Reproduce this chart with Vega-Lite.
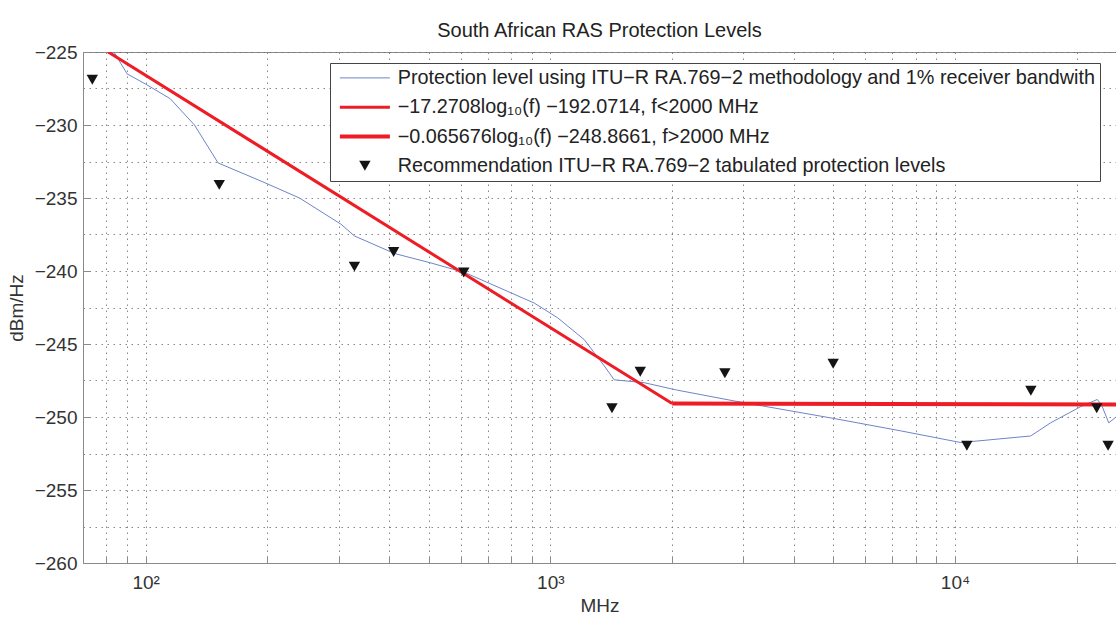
{
  "$schema": "https://vega.github.io/schema/vega-lite/v6.json",
  "width": 1033,
  "height": 511,
  "autosize": {"type": "none"},
  "padding": {"left": 83, "top": 52, "right": 0, "bottom": 65},
  "background": "white",
  "config": {
    "font": "Liberation Sans",
    "view": {"stroke": "#8a8a8a", "strokeWidth": 1},
    "axis": {
      "domainColor": "#8a8a8a",
      "tickColor": "#8a8a8a",
      "labelColor": "#333333",
      "titleColor": "#333333",
      "labelFontSize": 19,
      "titleFontSize": 19,
      "titleFontWeight": "normal",
      "gridColor": "#6a6a6a",
      "gridDash": [1.5, 4.5],
      "gridWidth": 1,
      "gridOpacity": 0.8
    }
  },
  "title": {
    "text": "South African RAS Protection Levels",
    "fontSize": 20,
    "fontWeight": "normal",
    "color": "#222222",
    "offset": 2
  },
  "data": {
    "values": [
      {"series": "model", "f": 83.5, "v": -225.0},
      {"series": "model", "f": 86, "v": -225.6},
      {"series": "model", "f": 90, "v": -226.5},
      {"series": "model", "f": 100, "v": -227.2},
      {"series": "model", "f": 115, "v": -228.2},
      {"series": "model", "f": 132, "v": -230.0},
      {"series": "model", "f": 151, "v": -232.6},
      {"series": "model", "f": 195, "v": -233.9},
      {"series": "model", "f": 240, "v": -235.0},
      {"series": "model", "f": 304, "v": -236.8},
      {"series": "model", "f": 328, "v": -237.6},
      {"series": "model", "f": 412, "v": -238.8},
      {"series": "model", "f": 507, "v": -239.45},
      {"series": "model", "f": 614, "v": -240.1},
      {"series": "model", "f": 800, "v": -241.5},
      {"series": "model", "f": 913, "v": -242.2},
      {"series": "model", "f": 1042, "v": -243.2},
      {"series": "model", "f": 1213, "v": -244.7},
      {"series": "model", "f": 1284, "v": -245.6},
      {"series": "model", "f": 1359, "v": -246.5},
      {"series": "model", "f": 1438, "v": -247.45},
      {"series": "model", "f": 1706, "v": -247.65},
      {"series": "model", "f": 2050, "v": -248.15},
      {"series": "model", "f": 2846, "v": -248.9},
      {"series": "model", "f": 5020, "v": -250.1},
      {"series": "model", "f": 7345, "v": -250.95},
      {"series": "model", "f": 10340, "v": -251.75},
      {"series": "model", "f": 15380, "v": -251.3},
      {"series": "model", "f": 17230, "v": -250.4},
      {"series": "model", "f": 20420, "v": -249.3},
      {"series": "model", "f": 22470, "v": -248.8},
      {"series": "model", "f": 23050, "v": -249.2},
      {"series": "model", "f": 23990, "v": -250.4},
      {"series": "model", "f": 25000, "v": -250.0},
      {"series": "fit1", "f": 80.8, "v": -225.0},
      {"series": "fit1", "f": 2000, "v": -249.08},
      {"series": "fit2", "f": 2000, "v": -249.08},
      {"series": "fit2", "f": 25000, "v": -249.15},
      {"series": "table", "f": 73.8, "v": -226.9},
      {"series": "table", "f": 152, "v": -234.1},
      {"series": "table", "f": 328, "v": -239.7},
      {"series": "table", "f": 410, "v": -238.7},
      {"series": "table", "f": 611, "v": -240.1},
      {"series": "table", "f": 1420, "v": -249.4},
      {"series": "table", "f": 1668, "v": -246.9},
      {"series": "table", "f": 2700, "v": -247.0},
      {"series": "table", "f": 5000, "v": -246.35},
      {"series": "table", "f": 10700, "v": -251.97},
      {"series": "table", "f": 15400, "v": -248.2},
      {"series": "table", "f": 22400, "v": -249.4},
      {"series": "table", "f": 23900, "v": -251.97}
    ]
  },
  "encoding": {
    "x": {
      "field": "f",
      "type": "quantitative",
      "scale": {"type": "log", "domain": [70, 25000], "nice": false},
      "axis": {
        "title": "MHz",
        "values": [70, 80, 90, 100, 200, 300, 400, 500, 600, 700, 800, 900, 1000, 2000, 3000, 4000, 5000, 6000, 7000, 8000, 9000, 10000, 20000],
        "labelExpr": "datum.value == 100 ? '10²' : datum.value == 1000 ? '10³' : datum.value == 10000 ? '10⁴' : ''",
        "grid": true,
        "tickSize": -7,
        "labelPadding": 17,
        "titlePadding": 4,
        "labelFlush": false,
        "labelOverlap": false
      }
    },
    "y": {
      "field": "v",
      "type": "quantitative",
      "scale": {"domain": [-260, -225], "nice": false, "zero": false},
      "axis": {
        "title": "dBm/Hz",
        "values": [-260, -257.5, -255, -252.5, -250, -247.5, -245, -242.5, -240, -237.5, -235, -232.5, -230, -227.5, -225],
        "format": ".0f",
        "labelExpr": "datum.value % 5 == 0 ? datum.label : ''",
        "grid": true,
        "tickSize": -7,
        "tickOpacity": {"condition": {"test": "datum.value % 5 == 0", "value": 1}, "value": 0},
        "labelPadding": 13,
        "titlePadding": 8,
        "labelFlush": false,
        "labelOverlap": false
      }
    },
    "color": {
      "field": "series",
      "type": "nominal",
      "scale": {
        "domain": ["model", "fit1", "fit2", "table"],
        "range": ["#6f84c8", "#ee1c25", "#ee1c25", "#141414"]
      },
      "legend": {
        "orient": "none",
        "legendX": 247,
        "legendY": 11,
        "title": null,
        "labelExpr": "datum.value == 'model' ? 'Protection level using ITU−R RA.769−2 methodology and 1% receiver bandwith' : datum.value == 'fit1' ? '−17.2708log₁₀(f) −192.0714, f<2000 MHz' : datum.value == 'fit2' ? '−0.065676log₁₀(f) −248.8661, f>2000 MHz' : 'Recommendation ITU−R RA.769−2 tabulated protection levels'",
        "labelFontSize": 19.8,
        "labelColor": "#222222",
        "labelLimit": 1000,
        "symbolSize": 100,
        "symbolOffset": 20,
        "labelOffset": 23,
        "rowPadding": 8.3,
        "padding": 5,
        "strokeColor": "#444444",
        "fillColor": "white",
        "encode": {
          "symbols": {
            "update": {
              "shape": {"signal": "datum.value === 'table' ? 'triangle-down' : 'M-5,0H5'"},
              "size": {"signal": "datum.value === 'table' ? 130 : 100"},
              "fill": {"signal": "datum.value === 'table' ? '#141414' : 'transparent'"},
              "stroke": {"signal": "datum.value === 'table' ? '#141414' : datum.value === 'model' ? '#6f84c8' : '#ee1c25'"},
              "strokeWidth": {"signal": "datum.value === 'model' ? 1 : datum.value === 'fit1' ? 3 : datum.value === 'table' ? 0 : 4"},
              "opacity": {"value": 1}
            }
          }
        }
      }
    }
  },
  "layer": [
    {
      "transform": [{"filter": "datum.series == 'model'"}],
      "mark": {"type": "line", "strokeWidth": 1, "clip": true}
    },
    {
      "transform": [{"filter": "datum.series == 'fit1' || datum.series == 'fit2'"}],
      "mark": {"type": "line", "clip": true},
      "encoding": {
        "strokeWidth": {
          "field": "series",
          "type": "nominal",
          "scale": {"domain": ["fit1", "fit2"], "range": [3, 4]},
          "legend": null
        }
      }
    },
    {
      "transform": [{"filter": "datum.series == 'table'"}],
      "mark": {"type": "point", "shape": "triangle-down", "filled": true, "size": 130, "opacity": 1, "clip": true}
    }
  ]
}
